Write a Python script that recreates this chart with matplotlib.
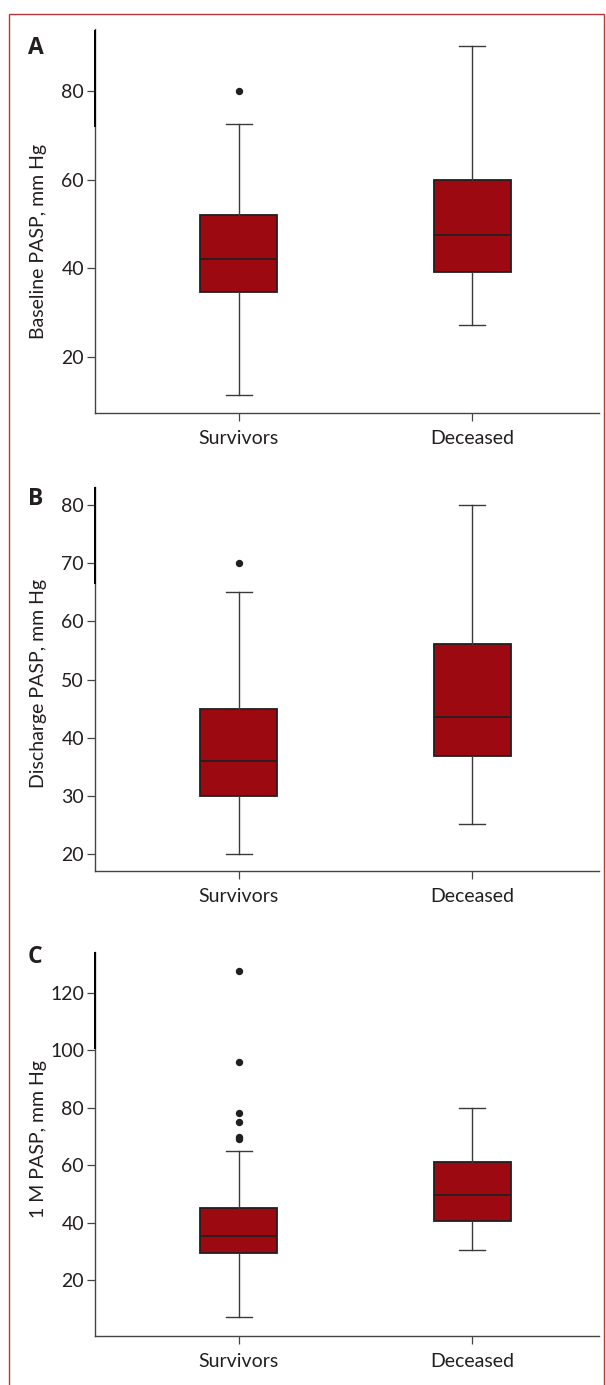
import matplotlib
matplotlib.use('Agg')
import matplotlib.pyplot as plt
from matplotlib.patches import Rectangle

plt.rcParams['font.family'] = ['Lato', 'DejaVu Sans']

# 
# data (box summary per group)
# 
groups = ['Survivors', 'Deceased']

# panel A: baseline PASP
a_whislo = [11.4, 27.2]
a_q1 = [34.7, 39.2]
a_med = [42.1, 47.5]
a_q3 = [52.0, 60.0]
a_whishi = [72.6, 90.2]
a_fliers = [[80.0], []]

# panel B: discharge PASP
b_whislo = [20.0, 25.2]
b_q1 = [30.0, 36.8]
b_med = [36.0, 43.5]
b_q3 = [45.0, 56.1]
b_whishi = [65.0, 80.0]
b_fliers = [[70.0], []]

# panel C: 1 M PASP
c_whislo = [7.1, 30.6]
c_q1 = [29.4, 40.6]
c_med = [35.4, 49.6]
c_q3 = [45.2, 61.2]
c_whishi = [65.0, 80.0]
c_fliers = [[127.8, 95.9, 78.3, 75.2, 70.0, 69.1], []]

panels = [
    ('A', 'Baseline PASP, mm Hg', a_whislo, a_q1, a_med, a_q3, a_whishi, a_fliers, (7.4, 93.9), [20, 40, 60, 80], 0.446),
    ('B', 'Discharge PASP, mm Hg', b_whislo, b_q1, b_med, b_q3, b_whishi, b_fliers, (17.1, 83.1), [20, 30, 40, 50, 60, 70, 80], 0.487),
    ('C', '1 M PASP, mm Hg', c_whislo, c_q1, c_med, c_q3, c_whishi, c_fliers, (0.5, 134.3), [20, 40, 60, 80, 100, 120], 0.514),
]

box_color = '#9c0910'
ink = '#231f20'
spine_color = '#444444'

fig = plt.figure(figsize=(6.06, 13.85), dpi=100)

# axes boxes in figure pixels: (top, bottom)
ax_rows = [(29.5, 413.0), (487.0, 871.0), (952.0, 1336.0)]
letter_base = [54.0, 505.0, 963.0]
W, H = 606.0, 1385.0
left_px, right_px = 94.5, 599.0

for i, (letter, ylab, wlo, q1, med, q3, whi, fl, ylim, yticks, ylab_y) in enumerate(panels):
    top, bot = ax_rows[i]
    ax = fig.add_axes([left_px/W, 1-bot/H, (right_px-left_px)/W, (bot-top)/H])
    stats = []
    for k in range(len(groups)):
        stats.append({'label': groups[k], 'whislo': wlo[k], 'q1': q1[k], 'med': med[k],
                      'q3': q3[k], 'whishi': whi[k], 'fliers': fl[k]})
    ax.bxp(stats, positions=[1, 2], widths=0.33, capwidths=0.11, patch_artist=True,
           boxprops=dict(facecolor=box_color, edgecolor=ink, linewidth=1.3),
           medianprops=dict(color=ink, linewidth=1.3),
           whiskerprops=dict(color='#3a3a3a', linewidth=1.0),
           capprops=dict(color='#3a3a3a', linewidth=1.0),
           flierprops=dict(marker='o', markerfacecolor=ink, markeredgecolor=ink, markersize=4.3))
    ax.set_xlim(0.381, 2.543)
    ax.set_ylim(*ylim)
    ax.set_yticks(yticks)
    ax.set_xticks([1, 2])
    ax.set_xticklabels(groups)
    for s in ['top', 'right']:
        ax.spines[s].set_visible(False)
    for s in ['left', 'bottom']:
        ax.spines[s].set_color(spine_color)
        ax.spines[s].set_linewidth(1.0)
    # darker stretch at the top of the y axis, as in the original print
    ax.plot([0, 0], [1-97.0/(bot-top), 1], transform=ax.transAxes, color='black', lw=1.4,
            clip_on=False, solid_capstyle='butt', zorder=5)
    ax.tick_params(axis='both', direction='out', length=5.5, width=0.9, color=spine_color,
                   labelsize=14, labelcolor=ink, pad=2)
    ax.tick_params(axis='x', pad=7)
    ax.set_ylabel(ylab, fontsize=14, color=ink)
    ax.yaxis.set_label_coords(-0.094, ylab_y)
    fig.text(28/W, 1-letter_base[i]/H, letter, fontsize=16.5, fontweight='bold', color=ink,
             family=['Open Sans', 'DejaVu Sans'], ha='left', va='baseline')

# red frame round the figure
fig.patches.append(Rectangle((9/W, -0.02), (604-9)/W, 1.02-14/H, transform=fig.transFigure,
                             fill=False, edgecolor='#b9343c', linewidth=1.0, clip_on=False))

fig.savefig('out.png', dpi=100)
